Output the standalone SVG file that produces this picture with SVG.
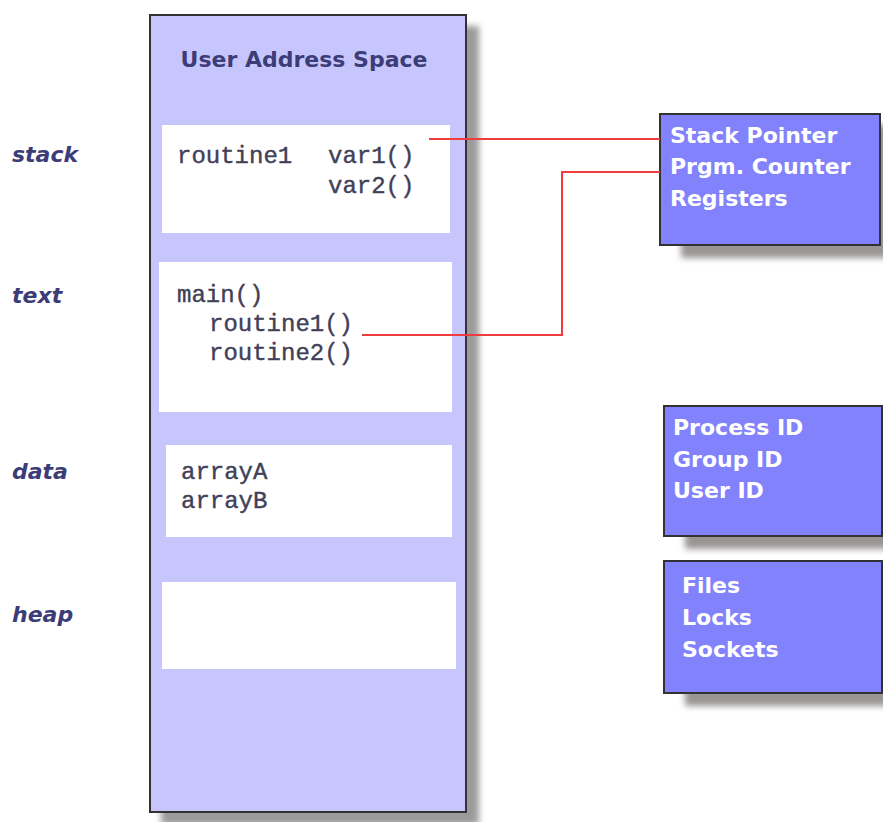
<svg xmlns="http://www.w3.org/2000/svg" width="883" height="822" viewBox="0 0 883 822">
<defs>
<filter id="shMain" x="-10%" y="-10%" width="130%" height="130%">
<feGaussianBlur in="SourceAlpha" stdDeviation="3" result="b"/>
<feOffset in="b" dx="12" dy="12" result="o"/>
<feFlood flood-color="#9c9a9a"/>
<feComposite in2="o" operator="in" result="s"/>
<feMerge><feMergeNode in="s"/><feMergeNode in="SourceGraphic"/></feMerge>
</filter>
<filter id="shBox" x="-10%" y="-10%" width="140%" height="140%">
<feGaussianBlur in="SourceAlpha" stdDeviation="3" result="b"/>
<feOffset in="b" dx="22" dy="12" result="o"/>
<feFlood flood-color="#9a9494"/>
<feComposite in2="o" operator="in" result="s"/>
<feMerge><feMergeNode in="s"/><feMergeNode in="SourceGraphic"/></feMerge>
</filter>
</defs>
<style>
.main{fill:#c6c6fc;stroke:#333;stroke-width:2}
.seg{fill:#fff}
.title{font-family:"DejaVu Sans",Verdana,sans-serif;font-weight:bold;font-size:22px;fill:#3c3c78}
.lbl{font-family:"DejaVu Sans",Verdana,sans-serif;font-weight:bold;font-style:italic;font-size:22px;fill:#3c3c78}
.code{font-family:"Liberation Mono","Courier New",monospace;font-size:24px;fill:#404058;stroke:#404058;stroke-width:0.4}
.rbox{fill:#8282fc;stroke:#333;stroke-width:2}
.rtxt{font-family:"DejaVu Sans",Verdana,sans-serif;font-weight:bold;font-size:22px;fill:#fff}
.conn{fill:none;stroke:#f03c3c;stroke-width:2}
</style>
<g id="address-space">
<rect class="main" x="150" y="15" width="316" height="797" filter="url(#shMain)"/>
<text class="title" x="304" y="67" text-anchor="middle">User Address Space</text>
</g>
<g id="stack">
<text class="lbl" x="12" y="162">stack</text>
<rect class="seg" x="162" y="125" width="288" height="108"/>
<text class="code" x="177" y="163">routine1</text>
<text class="code" x="328" y="163">var1()</text>
<text class="code" x="328" y="193">var2()</text>
</g>
<g id="text">
<text class="lbl" x="12" y="303">text</text>
<rect class="seg" x="159" y="262" width="293" height="150"/>
<text class="code" x="177" y="302">main()</text>
<text class="code" x="209" y="331">routine1()</text>
<text class="code" x="209" y="360">routine2()</text>
</g>
<g id="data">
<text class="lbl" x="12" y="479">data</text>
<rect class="seg" x="166" y="445" width="286" height="92"/>
<text class="code" x="181" y="479">arrayA</text>
<text class="code" x="181" y="508">arrayB</text>
</g>
<g id="heap">
<text class="lbl" x="12" y="622">heap</text>
<rect class="seg" x="162" y="582" width="294" height="87"/>
</g>
<g id="registers">
<rect class="rbox" x="660" y="114" width="220" height="131" filter="url(#shBox)"/>
<text class="rtxt" x="670" y="143">Stack Pointer</text>
<text class="rtxt" x="670" y="174">Prgm. Counter</text>
<text class="rtxt" x="670" y="206">Registers</text>
</g>
<g id="ids">
<rect class="rbox" x="664" y="406" width="218" height="130" filter="url(#shBox)"/>
<text class="rtxt" x="673" y="435">Process ID</text>
<text class="rtxt" x="673" y="467">Group ID</text>
<text class="rtxt" x="673" y="498">User ID</text>
</g>
<g id="resources">
<rect class="rbox" x="664" y="561" width="218" height="132" filter="url(#shBox)"/>
<text class="rtxt" x="682" y="593">Files</text>
<text class="rtxt" x="682" y="625">Locks</text>
<text class="rtxt" x="682" y="657">Sockets</text>
</g>
<g id="connectors">
<polyline class="conn" points="429,139 660,139"/>
<polyline class="conn" points="362,335 562,335 562,172 660,172"/>
</g>
</svg>
